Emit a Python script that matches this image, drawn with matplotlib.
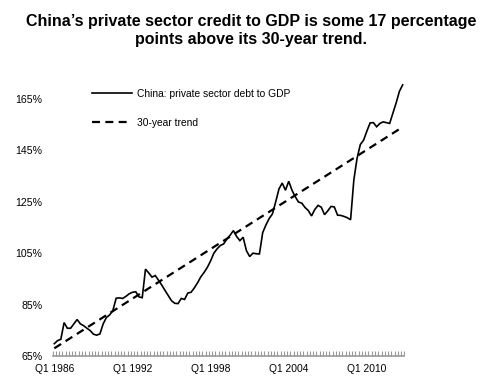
import matplotlib
matplotlib.use("Agg")
import matplotlib.pyplot as plt
from matplotlib.lines import Line2D

plt.rcParams['font.family'] = ['Liberation Sans', 'DejaVu Sans']

# Quarterly categories Q1 1986 .. Q4 2012
years = list(range(1986, 2013))
quarters = [f"Q{q} {y}" for y in years for q in (1, 2, 3, 4)]

debt_to_gdp = [
    69.8, 71.0, 71.5, 78.0, 75.8, 75.8, 77.5, 79.2, 77.5, 76.8,
    75.8, 74.9, 73.5, 73.1, 73.6, 77.5, 80.0, 81.0, 82.8, 87.5,
    87.6, 87.4, 88.2, 89.2, 89.8, 90.0, 88.0, 87.7, 98.8, 97.3,
    95.7, 96.3, 94.5, 92.6, 90.5, 88.5, 86.5, 85.5, 85.4, 87.4,
    87.0, 89.5, 89.8, 91.5, 93.5, 95.8, 97.5, 99.5, 102.0, 105.0,
    106.7, 108.0, 108.6, 110.5, 112.0, 113.8, 111.5, 109.9, 111.2, 106.0,
    103.7, 105.0, 104.8, 104.7, 113.0, 116.0, 118.5, 120.3, 125.0, 130.0,
    132.3, 129.5, 133.0, 129.5, 127.0, 124.9, 124.5, 122.8, 121.6, 119.5,
    122.0, 123.6, 122.9, 120.0, 121.5, 123.2, 123.0, 119.8, 119.7, 119.3,
    118.8, 118.0, 133.5, 142.0, 147.3, 149.0, 152.5, 155.7, 155.8, 154.2,
    155.5, 156.1, 155.8, 155.5, 159.5, 163.5, 168.0, 170.5,
]

# 30-year trend: start and end values
trend_index = [0, len(quarters) - 1]
trend_values = [68.0, 154.1]

y_ticks = [65, 85, 105, 125, 145, 165]
y_tick_labels = ["65%", "85%", "105%", "125%", "145%", "165%"]
x_label_every = 24

series_label = "China: private sector debt to GDP"
trend_label = "30-year trend"
title = "China\u2019s private sector credit to GDP is some 17 percentage\npoints above its 30-year trend."

fig = plt.figure(figsize=(4.8, 3.87), dpi=100)
ax = fig.add_axes([0.1098, 0.0801, 0.7325, 0.7305])

x = list(range(len(quarters)))
ax.plot(x, debt_to_gdp, color='black', lw=1.2, solid_joinstyle='miter')
ax.plot(trend_index, trend_values, color='black', lw=1.6, dashes=(3.6, 2.4))

ax.set_xlim(-0.5, len(quarters) - 0.5)
ax.set_ylim(65, 175)

ax.set_yticks(y_ticks)
ax.set_yticklabels(y_tick_labels)
ax.tick_params(axis='y', length=0, pad=7.5, labelsize=7.6, colors='black')

major = x[::x_label_every]
ax.set_xticks(major)
ax.set_xticklabels([quarters[i] for i in major])
ax.set_xticks([i - 0.5 for i in range(len(quarters) + 1)], minor=True)
ax.tick_params(axis='x', which='major', length=0, pad=6, labelsize=7.4)
ax.tick_params(axis='x', which='minor', length=3.5, width=0.8, direction='in', color='#9a9a9a')

for s in ('left', 'right', 'top'):
    ax.spines[s].set_visible(False)
ax.spines['bottom'].set_color('#9a9a9a')
ax.spines['bottom'].set_linewidth(1.2)

handles = [Line2D([], [], color='black', lw=1.2),
           Line2D([], [], color='black', lw=1.6, dashes=(3.6, 2.4))]
leg = ax.legend(handles, [series_label, trend_label], loc='upper left',
                bbox_to_anchor=(92 / 480, 1 - 89 / 387), bbox_transform=fig.transFigure,
                frameon=False, fontsize=7.4, handlelength=3.9, handletextpad=0.45,
                labelspacing=1.85, borderpad=0, borderaxespad=0)

fig.text(0.523, 1 - 30.5 / 387, title, ha='center', va='center', fontsize=11.5,
         fontweight='bold', linespacing=1.3)

fig.savefig('out.png', dpi=100)
